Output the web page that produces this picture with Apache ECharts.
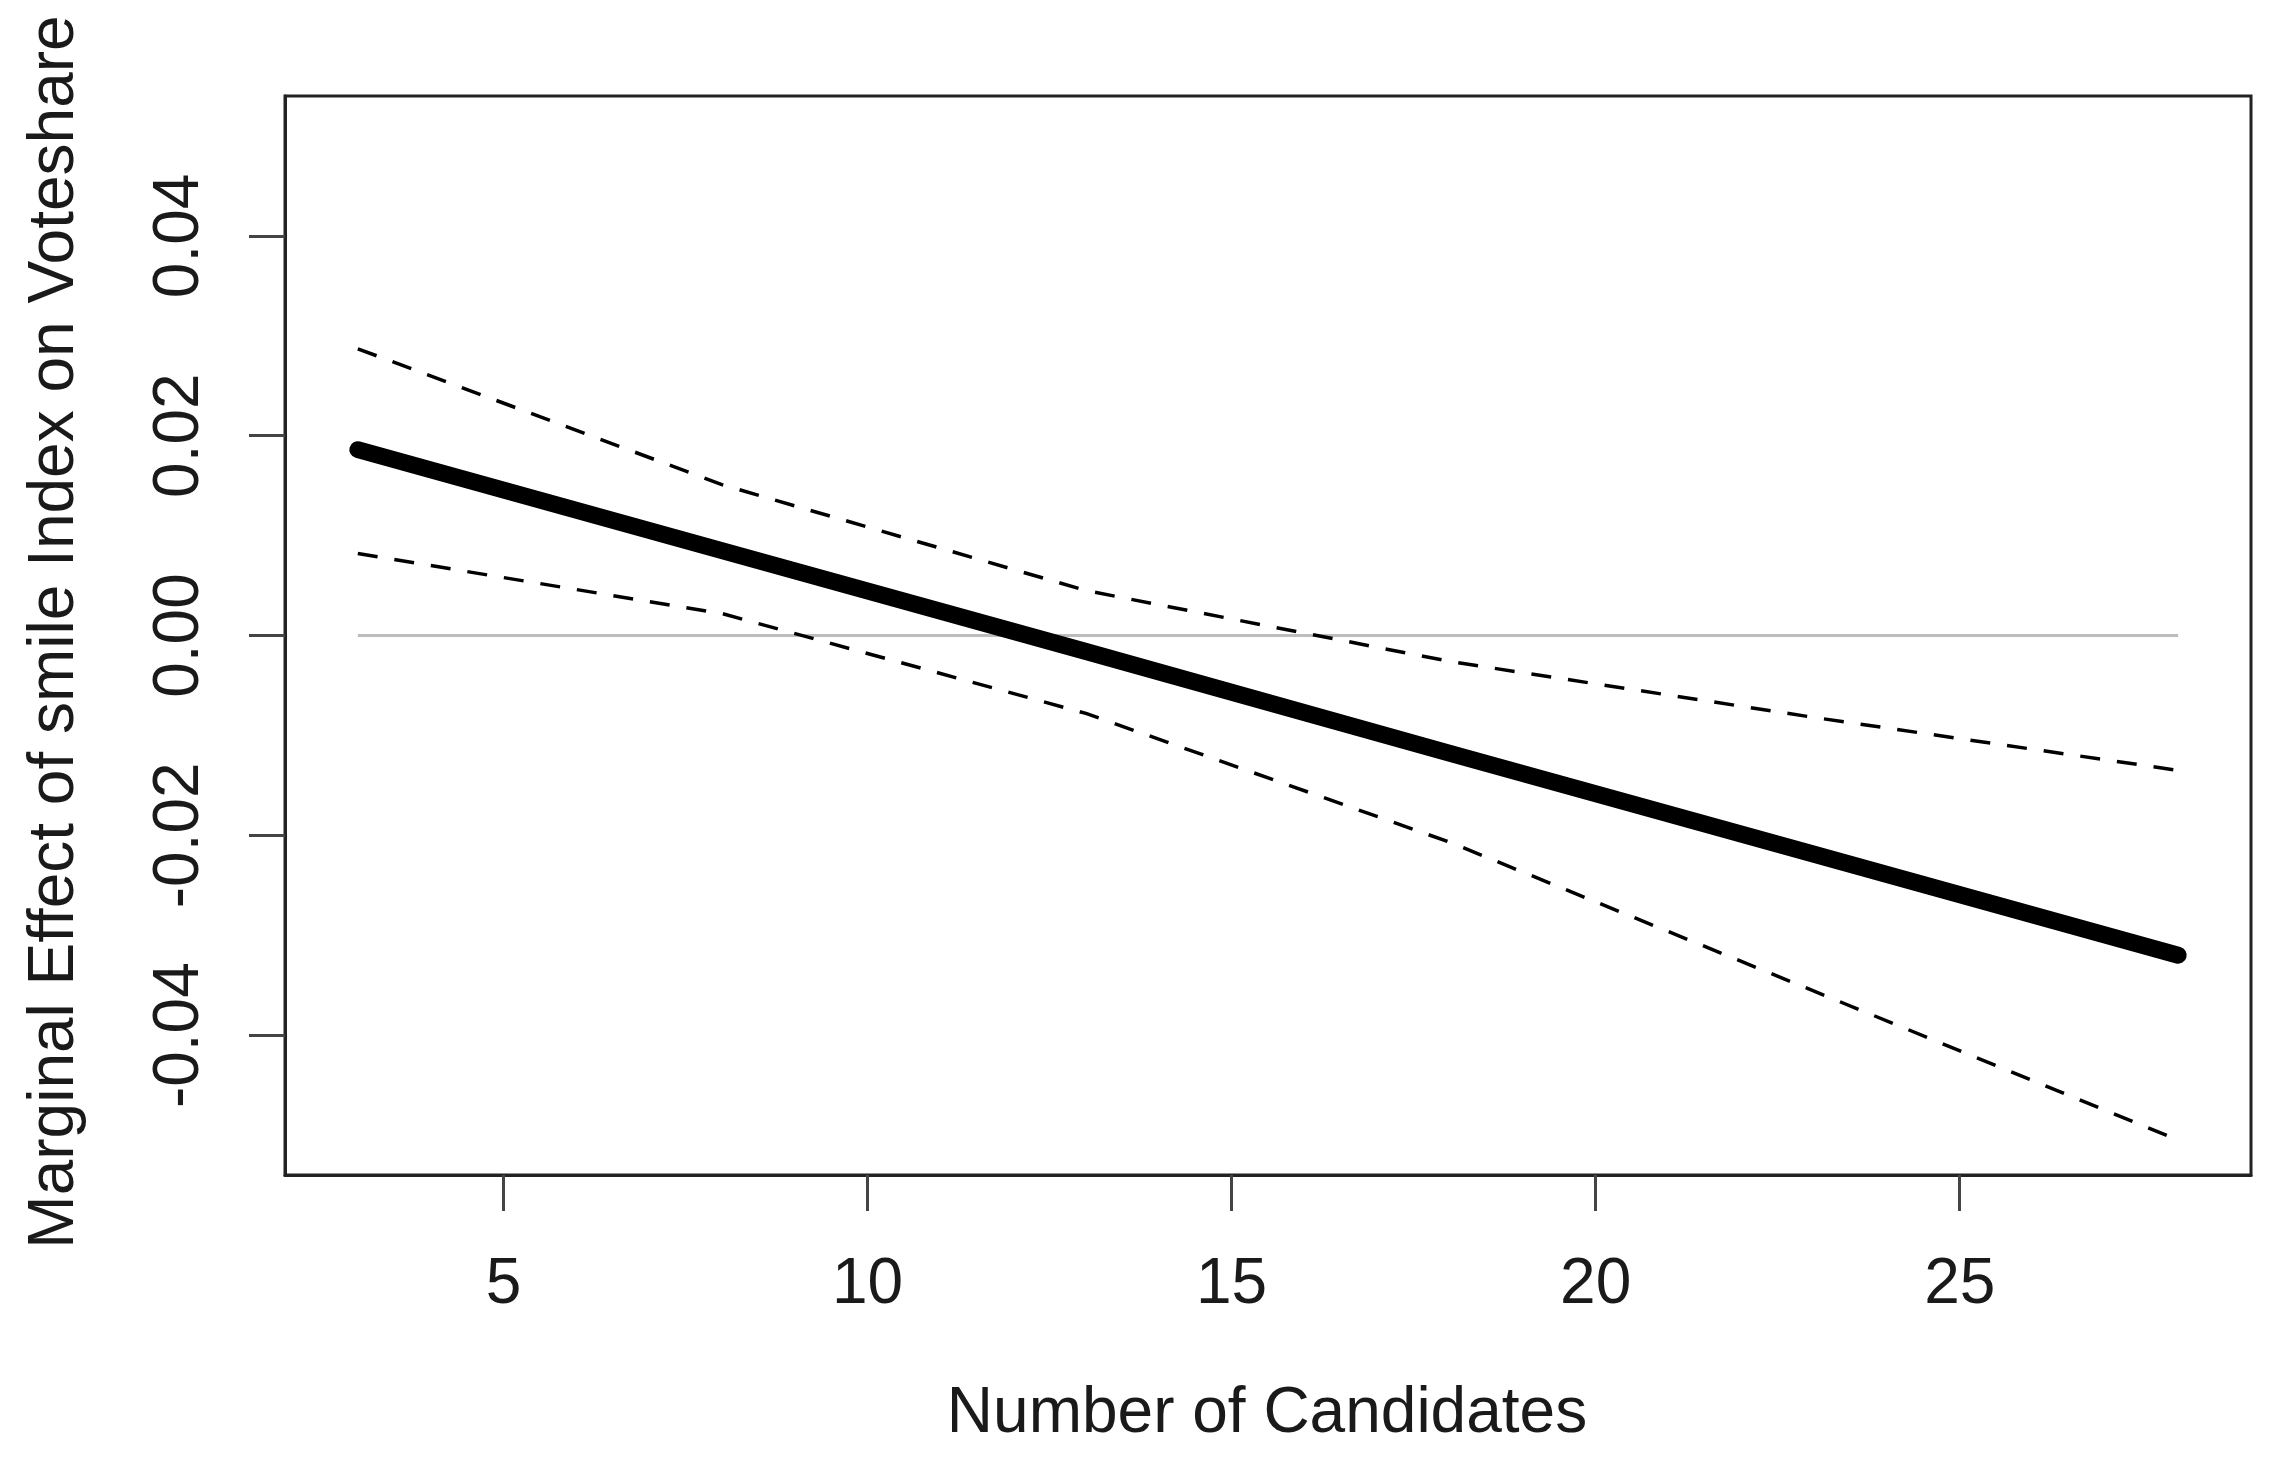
<!DOCTYPE html>
<html>
<head>
<meta charset="utf-8">
<script src="https://cdn.jsdelivr.net/npm/echarts@6/dist/echarts.min.js"></script>
<style>
  html, body { margin: 0; padding: 0; background: #fff; }
  #chart { width: 2279px; height: 1475px; }
</style>
</head>
<body>
<div id="chart"></div>
<script>
// Number of candidates at which the curves were read
var candidates = [3, 8, 13, 18, 23, 28];
// Marginal effect (solid line)
var effect = [0.0186, 0.0085, -0.0016, -0.0118, -0.0219, -0.0320];
// Upper confidence bound (dashed)
var upper = [0.0287, 0.0151, 0.0045, -0.0026, -0.0082, -0.0135];
// Lower confidence bound (dashed)
var lower = [0.0082, 0.0022, -0.0078, -0.0207, -0.0356, -0.0505];
// Reference line at zero
var zeroX = [3, 28];
var zeroY = [0, 0];
// Tick labels
var xTicks = [5, 10, 15, 20, 25];
var yTicks = [-0.04, -0.02, 0.00, 0.02, 0.04];

var xTitle = 'Number of Candidates';
var yTitle = 'Marginal Effect of smile Index on Voteshare';

function pairs(xs, ys) { return xs.map(function (x, i) { return [x, ys[i]]; }); }

var FONT = '"Liberation Sans", Arial, Helvetica, sans-serif';
var chart = echarts.init(document.getElementById('chart'), null, { renderer: 'canvas' });

chart.setOption({
  animation: false,
  backgroundColor: '#ffffff',
  grid: {
    left: 285, right: 28, top: 96, bottom: 300,
    show: true, borderColor: '#222', borderWidth: 3, backgroundColor: '#fff'
  },
  xAxis: {
    type: 'value', min: 2, max: 29,
    axisLine: { show: true, onZero: false, lineStyle: { color: '#222', width: 3 } },
    axisTick: { show: true, customValues: xTicks, length: 36, lineStyle: { color: '#444', width: 3 } },
    axisLabel: {
      customValues: xTicks, margin: 110, verticalAlign: 'middle',
      fontSize: 64, fontFamily: FONT, color: '#1a1a1a',
      formatter: function (v) { return String(v); }
    },
    splitLine: { show: false }
  },
  yAxis: {
    type: 'value', min: -0.054, max: 0.054,
    axisLine: { show: true, onZero: false, lineStyle: { color: '#222', width: 3 } },
    axisTick: { show: true, customValues: yTicks, length: 36, lineStyle: { color: '#444', width: 3 } },
    axisLabel: {
      customValues: yTicks, rotate: 90, margin: 105,
      align: 'center', verticalAlign: 'middle',
      fontSize: 64, fontFamily: FONT, color: '#1a1a1a',
      formatter: function (v) { return v.toFixed(2); }
    },
    splitLine: { show: false }
  },
  graphic: [
    {
      type: 'text', x: 1267, y: 1414,
      style: { text: xTitle, font: '64px ' + FONT, fill: '#1a1a1a', textAlign: 'center', textVerticalAlign: 'middle' }
    },
    {
      type: 'text', x: 55, y: 632, rotation: Math.PI / 2,
      style: { text: yTitle, font: '64px ' + FONT, fill: '#1a1a1a', textAlign: 'center', textVerticalAlign: 'middle' }
    }
  ],
  series: [
    {
      type: 'line', data: pairs(zeroX, zeroY), showSymbol: false, silent: true, z: 1,
      lineStyle: { color: '#bdbdbd', width: 3 }
    },
    {
      type: 'line', data: pairs(candidates, upper), showSymbol: false, silent: true, z: 2,
      lineStyle: { color: '#000', width: 3.5, type: [20, 17] }
    },
    {
      type: 'line', data: pairs(candidates, lower), showSymbol: false, silent: true, z: 2,
      lineStyle: { color: '#000', width: 3.5, type: [20, 17] }
    },
    {
      type: 'line', data: pairs(candidates, effect), showSymbol: false, silent: true, z: 3,
      lineStyle: { color: '#000', width: 17, cap: 'round', join: 'round' }
    }
  ]
});
</script>
</body>
</html>
